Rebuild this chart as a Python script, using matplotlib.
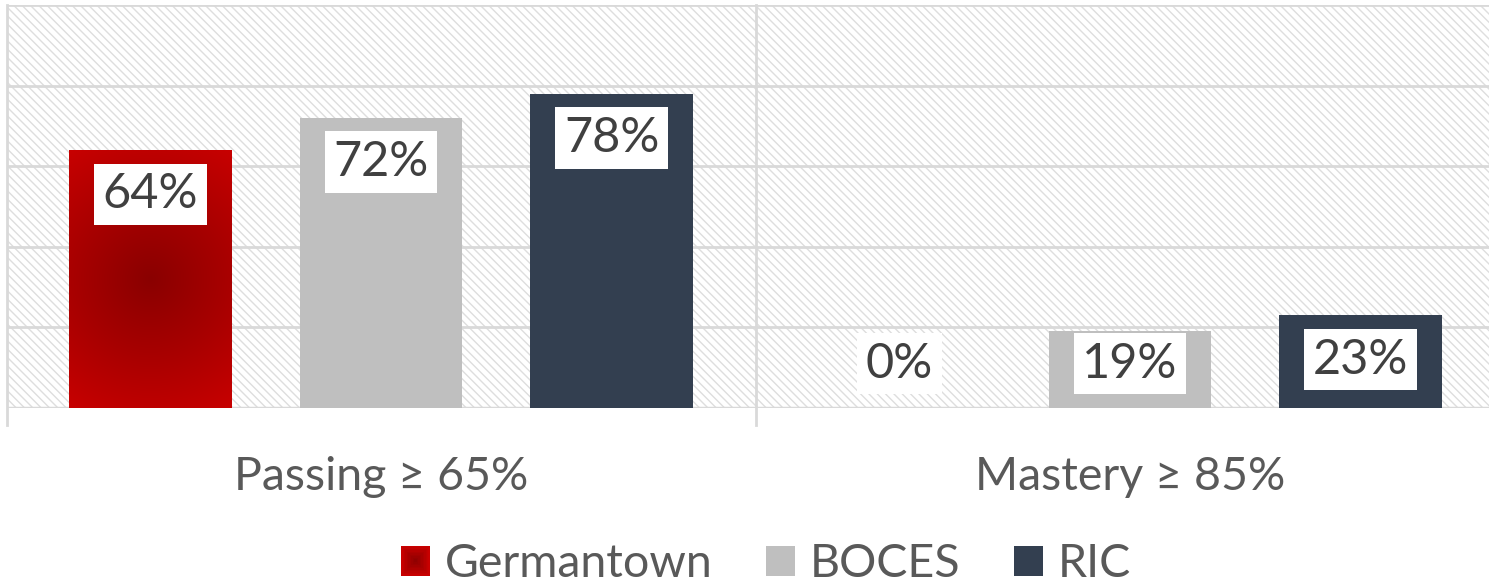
import numpy as np
import matplotlib.pyplot as plt
from matplotlib.patches import Rectangle
from matplotlib.legend_handler import HandlerBase
from matplotlib.colors import LinearSegmentedColormap

plt.rcParams['font.family'] = ['Lato', 'DejaVu Sans']
plt.rcParams['hatch.linewidth'] = 1.0
plt.rcParams['hatch.color'] = '#dedede'

categories = ['Passing \u2265 65%', 'Mastery \u2265 85%']
series = ['Germantown', 'BOCES', 'RIC']
values = {
    'Germantown': [64, 0],
    'BOCES': [72, 19],
    'RIC': [78, 23],
}
colors = {'Germantown': '#c00000', 'BOCES': '#bfbfbf', 'RIC': '#333f50'}

grid_c = '#d9d9d9'
red_cmap = LinearSegmentedColormap.from_list('redglow', ['#8a0000', '#a80000', '#c80000'])


class GradientHandler(HandlerBase):
    # nested squares give the legend key the same glow as the bar
    def create_artists(self, legend, orig_handle, xdescent, ydescent,
                       width, height, fontsize, trans):
        out = []
        n = 10
        for i in range(n):
            f = i / n
            dx, dy = width * f / 2, height * f / 2
            c = red_cmap(1 - f)
            out.append(Rectangle((-xdescent + dx, -ydescent + dy), width - 2 * dx,
                                 height - 2 * dy, facecolor=c, edgecolor='none',
                                 transform=trans))
        return out


fig = plt.figure(figsize=(14.89, 5.87), dpi=100)
ax = fig.add_axes([6.5 / 1489, 179 / 587, 1498 / 1489, 403 / 587])
ax.set_xlim(-0.5, 1.5)
ax.set_ylim(0, 100)

# hatched plot area
ax.add_patch(Rectangle((-0.5, 0), 2, 100, facecolor='white', edgecolor='#dedede',
                       hatch='\\\\\\\\', linewidth=0, zorder=0))

for y in range(20, 101, 20):
    ax.axhline(y, color=grid_c, lw=2, zorder=1)
ax.axhline(0, color=grid_c, lw=2.5, zorder=1)
for x in [-0.5, 0.5, 1.5]:
    ax.plot([x, x], [-4.2, 100], color=grid_c, lw=2, zorder=1, clip_on=False)

x = np.arange(len(categories))
offset = 0.308
width = 0.217
handles = []
for i, name in enumerate(series):
    pos = x + (i - 1) * offset
    bars = ax.bar(pos, values[name], width, color=colors[name], zorder=2, label=name)
    handles.append(bars)
    if name == 'Germantown':
        for b in bars:
            h = b.get_height()
            if h <= 0:
                continue
            b.set_facecolor('none')
            yy, xx = np.mgrid[-1:1:300j, -1:1:200j]
            d = np.sqrt(xx ** 2 + (yy * 1.6) ** 2) / 1.9
            im = ax.imshow(np.clip(d, 0, 1), cmap=red_cmap, vmin=0, vmax=1,
                           extent=[b.get_x(), b.get_x() + b.get_width(), 0, h],
                           aspect='auto', zorder=2, origin='lower')
            im.set_clip_path(b)
    for p, v in zip(pos, values[name]):
        ax.text(p, max(v - 11, 11), f'{v}%', ha='center', va='center',
                fontsize=35, color='#404040', zorder=4,
                bbox=dict(boxstyle='square,pad=0.18', facecolor='white', edgecolor='none'))

ax.set_xticks([])
ax.set_yticks([])
for s in ax.spines.values():
    s.set_visible(False)

for xi, cat in zip(x, categories):
    ax.text(xi, -0.17, cat, transform=ax.get_xaxis_transform(), ha='center',
            va='center', fontsize=33.5, color='#595959')

leg = fig.legend(handles, series, loc='center', bbox_to_anchor=(766 / 1489, 1 - 564 / 587),
                 ncol=3, frameon=False, fontsize=33.5, handlelength=0.62, handleheight=0.62,
                 handletextpad=0.32, columnspacing=1.15,
                 handler_map={handles[0]: GradientHandler()})
for t in leg.get_texts():
    t.set_color('#595959')

fig.savefig('out.png', dpi=100)
